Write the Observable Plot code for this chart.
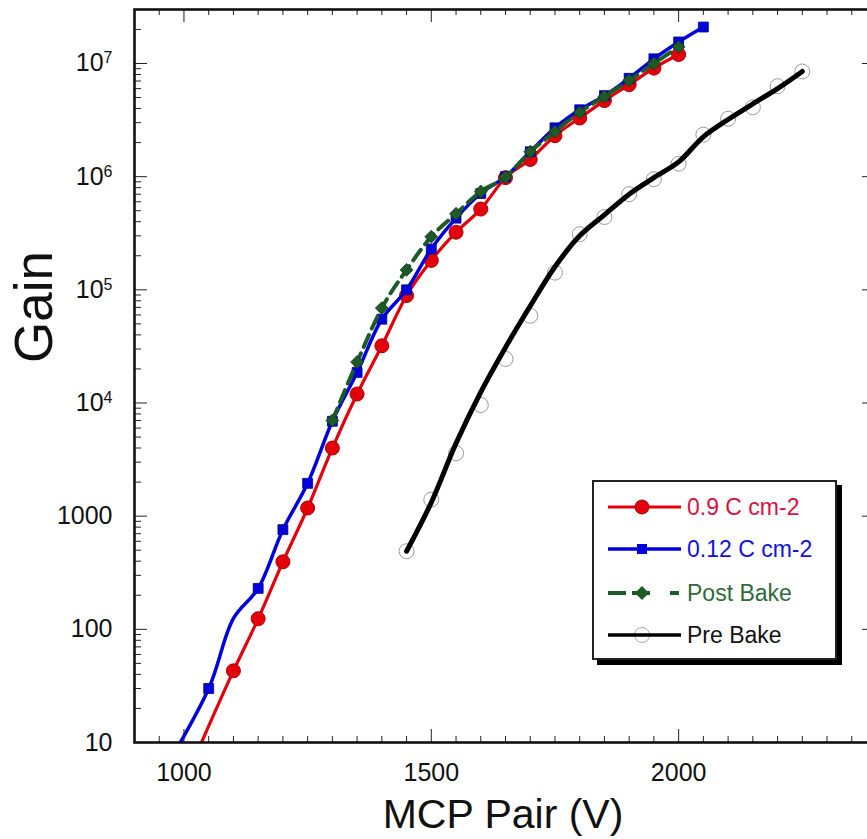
<!DOCTYPE html>
<html><head><meta charset="utf-8">
<script src="https://cdn.jsdelivr.net/npm/d3@7"></script>
<script src="https://cdn.jsdelivr.net/npm/@observablehq/plot@0.6"></script>
<style>
html,body{margin:0;padding:0;overflow:hidden;background:#fff;width:867px;height:839px}
#wrap{position:relative;width:867px;height:839px;overflow:hidden;font-family:"Liberation Sans",Arial,Helvetica,sans-serif}
#chart{position:absolute;left:0;top:0;width:880px}
#chart svg{max-width:none !important}
.ylab{position:absolute;left:33px;top:307px;transform:translate(-50%,-50%) rotate(-90deg);font-size:53px;color:#111;white-space:nowrap}
.xlab{position:absolute;left:503px;top:790px;transform:translateX(-50%);font-size:41px;color:#111;white-space:nowrap;line-height:48px}
.legend{position:absolute;left:592px;top:480px;width:241px;height:176px;border:2px solid #222;box-shadow:5px 5px 0 #000;background:#fff;font-size:23px}
.row{position:absolute;left:12px;height:26px;display:flex;align-items:center}
.row svg{display:block;margin-right:6px}
</style></head>
<body><div id="wrap"><div id="chart"></div>
<div class="ylab">Gain</div>
<div class="xlab">MCP Pair (V)</div>
<div class="legend" id="legend"></div>
</div>
<script>
// ---- data ----
const redVolts = [1100,1150,1200,1250,1300,1350,1400,1450,1500,1550,1600,1650,1700,1750,1800,1850,1900,1950,2000];
const redGain  = [43,124,395,1180,4000,12000,32000,89000,182000,323000,517000,980000,1.42e6,2.3e6,3.3e6,4.7e6,6.5e6,9.1e6,1.2e7];
const redTailVolts = [1000];
const redTailGain  = [4.4];

const blueVolts = [1050,1150,1200,1250,1300,1350,1400,1450,1500,1550,1600,1650,1700,1750,1800,1850,1900,1950,2000,2050];
const blueGain  = [30,230,760,1950,6900,18600,55000,100000,230000,430000,710000,1.0e6,1.66e6,2.7e6,3.9e6,5.2e6,7.4e6,1.1e7,1.55e7,2.1e7];
const blueTailVolts = [950,1100];
const blueTailGain  = [4.8,125];

const postVolts = [1300,1350,1400,1450,1500,1550,1600,1650,1700,1750,1800,1850,1900,1950,2000];
const postGain  = [7000,23000,69000,150000,295000,470000,740000,990000,1.66e6,2.5e6,3.7e6,5.1e6,7.1e6,1.0e7,1.4e7];

// Pre Bake: open markers, and the drawn (smoothed) curve as it appears
const preVolts = [1450,1500,1550,1600,1650,1700,1750,1800,1850,1900,1950,2000,2050,2100,2150,2200,2250];
const preGain  = [490,1400,3600,9600,24500,59000,142000,310000,440000,700000,950000,1.3e6,2.35e6,3.25e6,4.1e6,6.3e6,8.5e6];
const preCurveVolts = [1450,1500,1550,1600,1650,1700,1750,1800,1850,1900,1950,2000,2050,2100,2150,2200,2250];
const preCurveGain  = [490,1320,4400,12500,31000,72000,160000,300000,460000,700000,980000,1.35e6,2.25e6,3.2e6,4.4e6,6.0e6,8.5e6];

const seriesNames = ["0.9 C cm-2","0.12 C cm-2","Post Bake","Pre Bake"];
const xTickValues = [1000,1500,2000];
const yTickValues = [10,100,1000,1e4,1e5,1e6,1e7];
const yTickLabels = ["10","100","1000","10^4","10^5","10^6","10^7"];

// ---- build tables ----
const zip = (v,g) => v.map((x,i)=>({v:x,g:g[i]}));
const red = zip(redVolts, redGain);
const redLine = zip(redTailVolts, redTailGain).concat(red).sort((a,b)=>a.v-b.v);
const blue = zip(blueVolts, blueGain);
const blueLine = zip(blueTailVolts, blueTailGain).concat(blue).sort((a,b)=>a.v-b.v);
const post = zip(postVolts, postGain);
const pre = zip(preVolts, preGain);
const preCurve = zip(preCurveVolts, preCurveGain);

const C = {red:"#e3000b", redDark:"#a80008", blue:"#0000dc", green:"#1d5a27", black:"#000"};

const W = 876, H = 839, mL = 134, mT = 9, mB = 97, mR = 0;
const iw = W - mL - mR, ih = H - mT - mB;
const xDomain = [900, 2400];
const xMinor = d3.range(900, 2401, 50).filter(d => d % 500 !== 0);
const xMajorAll = d3.range(1000, 2401, 500);
const yMinor = [];
for (let e = 1; e < 8; e++) for (let k = 2; k <= 9; k++) { const v = k*Math.pow(10,e); if (v <= 3e7) yMinor.push(v); }

const tk = {stroke:"#222", strokeWidth:1};
const chart = Plot.plot({
  width: W, height: H,
  marginLeft: mL, marginTop: mT, marginBottom: mB, marginRight: mR,
  style: {fontFamily: '"Liberation Sans", Arial, Helvetica, sans-serif', fontSize: "25px", color: "#111", background: "#fff", overflow: "visible", maxWidth: "none"},
  x: {domain: xDomain, type: "linear"},
  y: {type: "log", domain: [10, 3e7]},
  marks: [
    // ticks (inward)
    Plot.tickX(xMinor, {x: d=>d, insetTop: ih-6, ...tk}),
    Plot.tickX(xMinor, {x: d=>d, insetBottom: ih-6, ...tk}),
    Plot.tickX(xMajorAll, {x: d=>d, insetTop: ih-13, ...tk}),
    Plot.tickX(xMajorAll, {x: d=>d, insetBottom: ih-13, ...tk}),
    Plot.tickY(yMinor, {y: d=>d, insetRight: iw-7, ...tk}),
    Plot.tickY(yMinor, {y: d=>d, insetLeft: iw-7, ...tk}),
    Plot.tickY(yTickValues, {y: d=>d, insetRight: iw-13, ...tk}),
    Plot.tickY(yTickValues, {y: d=>d, insetLeft: iw-14, ...tk}),
    Plot.axisX(xTickValues, {tickSize: 0, tickPadding: 21, label: null, fontSize: 25, tickFormat: d => String(d)}),
    Plot.axisY(yTickValues, {tickSize: 0, tickPadding: 22, label: null, fontSize: 25,
      tickFormat: d => yTickLabels[yTickValues.indexOf(d)]}),
    // Pre Bake
    Plot.dot(pre, {x:"v", y:"g", r:7.5, stroke:"#9a9a9a", strokeWidth:1, fill:"none", clip:true}),
    Plot.line(preCurve, {x:"v", y:"g", stroke:C.black, strokeWidth:5, curve:"catmull-rom", clip:true}),
    // 0.9 C cm-2
    Plot.line(redLine, {x:"v", y:"g", stroke:C.red, strokeWidth:3.2, curve:"monotone-x", clip:true}),
    Plot.dot(red, {x:"v", y:"g", r:7, fill:C.red, stroke:C.redDark, strokeWidth:1, clip:true}),
    // 0.12 C cm-2
    Plot.line(blueLine, {x:"v", y:"g", stroke:C.blue, strokeWidth:3.5, curve:"catmull-rom", clip:true}),
    Plot.dot(blue, {x:"v", y:"g", symbol:"square", r:5.6, fill:C.blue, stroke:"#00008a", strokeWidth:0.8, clip:true}),
    // Post Bake
    Plot.line(post, {x:"v", y:"g", stroke:C.green, strokeWidth:4, strokeDasharray:"13,7", curve:"monotone-x", clip:true}),
    Plot.dot(post, {x:"v", y:"g", symbol:"diamond2", r:5.8, fill:C.green, stroke:"#0f3a16", strokeWidth:0.8, clip:true}),
    Plot.frame({stroke:"#111", strokeWidth:2.6})
  ]
});
document.getElementById("chart").appendChild(chart);

// superscript exponents on y tick labels
chart.querySelectorAll("text").forEach(t => {
  const s = t.textContent;
  if (s.includes("^")) {
    const [b, e] = s.split("^");
    t.textContent = "";
    const sel = d3.select(t);
    sel.append("tspan").text(b);
    sel.append("tspan").attr("dy", "-0.5em").attr("font-size", "16px").text(e);
  }
});

// legend
const legendText = ["#dd1040", "#1010e0", "#2f6b3a", "#111"];
const rowsTop = [12, 54, 98, 140];
const leg = d3.select("#legend");
seriesNames.forEach((name, i) => {
  const row = leg.append("div").attr("class", "row").style("top", rowsTop[i] + "px");
  const s = row.append("svg").attr("width", 75).attr("height", 24);
  if (i === 0) {
    s.append("line").attr("x1",2).attr("x2",75).attr("y1",12).attr("y2",12).attr("stroke",C.red).attr("stroke-width",3.2);
    s.append("circle").attr("cx",36).attr("cy",12).attr("r",7).attr("fill",C.red).attr("stroke",C.redDark);
  } else if (i === 1) {
    s.append("line").attr("x1",2).attr("x2",75).attr("y1",12).attr("y2",12).attr("stroke",C.blue).attr("stroke-width",3.5);
    s.append("rect").attr("x",31).attr("y",7).attr("width",10).attr("height",10).attr("fill",C.blue);
  } else if (i === 2) {
    s.append("line").attr("x1",2).attr("x2",20).attr("y1",12).attr("y2",12).attr("stroke",C.green).attr("stroke-width",4);
    s.append("line").attr("x1",26).attr("x2",44).attr("y1",12).attr("y2",12).attr("stroke",C.green).attr("stroke-width",4);
    s.append("line").attr("x1",64).attr("x2",73).attr("y1",12).attr("y2",12).attr("stroke",C.green).attr("stroke-width",4);
    s.append("path").attr("d","M36,5 L43,12 L36,19 L29,12 Z").attr("fill",C.green);
  } else {
    s.append("circle").attr("cx",36).attr("cy",12).attr("r",7.5).attr("fill","none").attr("stroke","#aaa");
    s.append("line").attr("x1",2).attr("x2",75).attr("y1",12).attr("y2",12).attr("stroke","#000").attr("stroke-width",3.5);
  }
  row.append("span").style("color", legendText[i]).text(name);
});
</script>
</body></html>
